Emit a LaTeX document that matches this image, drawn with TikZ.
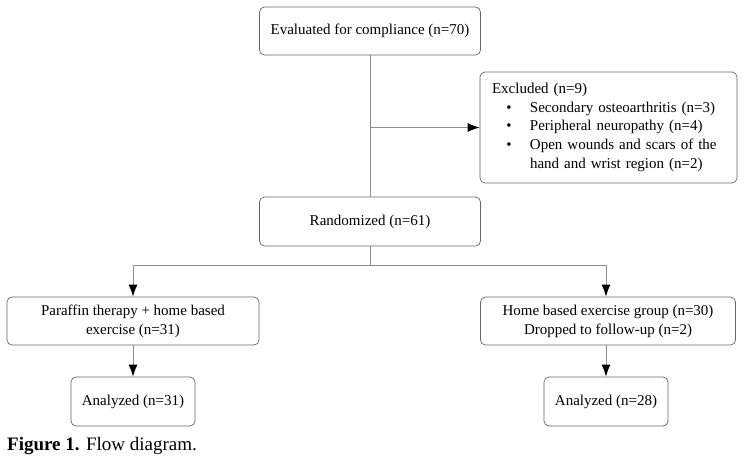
\documentclass[tikz,border=0pt]{standalone}
\usepackage{fontspec}
\setmainfont{Liberation Serif}
\usetikzlibrary{arrows.meta}

\tikzset{
  box/.style={draw=black!60, line width=0.7pt, rounded corners=5pt, align=center, inner sep=0pt},
  line/.style={draw=black!45, line width=1pt},
  arr/.style={line, -{Latex[black,length=12pt,width=9pt]}}
}

\begin{document}
\begin{tikzpicture}[x=1pt,y=-1pt,font=\fontsize{15}{19}\selectfont]
        \useasboundingbox (0,0) rectangle (744,463);

        \node[box, minimum width=221pt, minimum height=48pt] (eval) at (370,31) {Evaluated for compliance (n=70)};
        \node[box, minimum width=257pt, minimum height=111pt, text width=233pt, align=left] (excl) at (608.5,127.5)
            {\fontsize{15}{18.5}\selectfont
             Excluded (n=9)\\
             \makebox[38pt][c]{\textbullet\hspace{4pt}}Secondary osteoarthritis (n=3)\\
             \makebox[38pt][c]{\textbullet\hspace{4pt}}Peripheral neuropathy (n=4)\\
             \makebox[38pt][c]{\textbullet\hspace{4pt}}Open wounds and scars of the\\
             \hspace*{38pt}hand and wrist region (n=2)};
        \node[box, minimum width=221pt, minimum height=49pt] (rand) at (370,221.5) {Randomized (n=61)};

        \node[box, minimum width=252pt, minimum height=48pt] (para) at (133,321) {Paraffin therapy + home based\\exercise (n=31)};
        \node[box, minimum width=255pt, minimum height=48pt] (home) at (608,321) {Home based exercise group (n=30)\\Dropped to follow-up (n=2)};

        \node[box, minimum width=124pt, minimum height=49pt] (anl) at (133,401.5) {Analyzed (n=31)};
        \node[box, minimum width=124pt, minimum height=49pt] (anr) at (606,401.5) {Analyzed (n=28)};

        \node[anchor=west, inner sep=0pt, font=\fontsize{19}{22}\selectfont] (cap) at (7,446) {\textbf{Figure 1.} Flow diagram.};

        \coordinate (split) at (370,265);

        \draw[line] (eval) -- (rand);
        \draw[arr] (eval.south |- excl.west) -- (excl.west);
        \draw[line] (rand) -- (split);
        \draw[arr] (split) -| (para);
        \draw[arr] (split) -| (anr |- home.north);
        \draw[arr] (para) -- (anl);
        \draw[arr] (anr |- home.south) -- (anr);
    \end{tikzpicture}
\end{document}
